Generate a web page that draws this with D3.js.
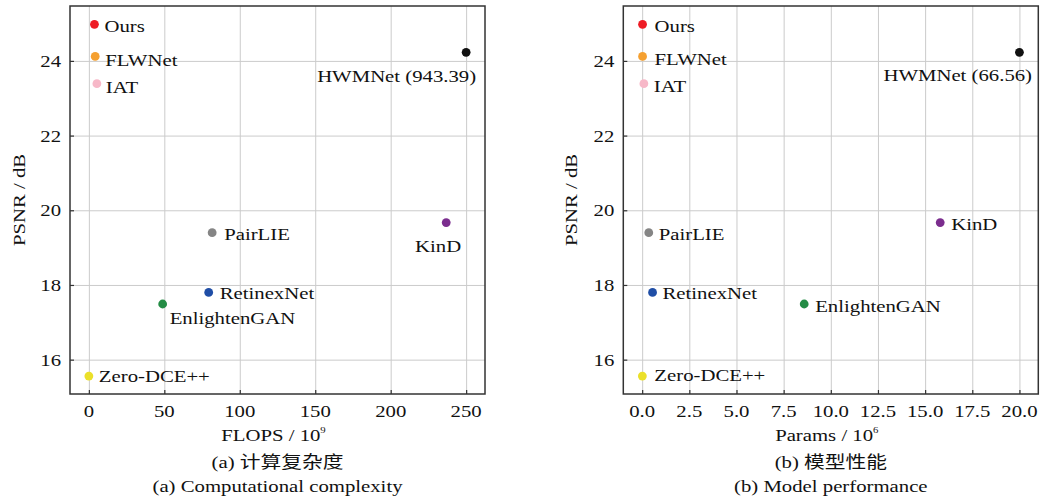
<!DOCTYPE html>
<html><head><meta charset="utf-8">
<script src="https://cdn.jsdelivr.net/npm/d3@7"></script>
<style>body{margin:0;background:#fff}svg{display:block}</style>
</head><body>
<svg id="c" width="1040" height="501"></svg>
<script>
// ---- data ----
const methods = ["Ours","FLWNet","IAT","HWMNet","PairLIE","KinD","RetinexNet","EnlightenGAN","Zero-DCE++"];
const psnr    = [24.98, 24.12, 23.39, 24.23, 19.40, 19.67, 17.80, 17.49, 15.56];
const flops   = [3.7, 4.2, 5.3, 250, 81.7, 236.8, 79.4, 48.9, 0.0];
const params  = [0.02, 0.02, 0.09, 20.0, 0.35, 15.8, 0.55, 8.59, 0.01];
const colors  = ["#ee1c25","#f5a030","#f7b8c8","#111111","#858585","#7b2d8e","#1f4ea6","#248c45","#ebe02a"];
const flopsNames  = ["Ours","FLWNet","IAT","HWMNet (943.39)","PairLIE","KinD","RetinexNet","EnlightenGAN","Zero-DCE++"];
const paramsNames = ["Ours","FLWNet","IAT","HWMNet (66.56)","PairLIE","KinD","RetinexNet","EnlightenGAN","Zero-DCE++"];
const flopsTicks  = [0,50,100,150,200,250];
const paramsTicks = [0,2.5,5,7.5,10,12.5,15,17.5,20];
const psnrTicks   = [16,18,20,22,24];

const FONT = "'Liberation Serif','Times New Roman','Noto Sans CJK SC',serif";
const FS = 17.3, SX = 1.2;
const svg = d3.select("#c");

function txt(g, x, y, s, anchor, rot) {
  return g.append("text")
    .attr("transform", `translate(${x},${y})` + (rot ? ` rotate(${rot})` : "") + ` scale(${SX},1)`)
    .attr("text-anchor", anchor || "start")
    .attr("font-family", FONT).attr("font-size", FS).attr("fill", "#111")
    .text(s);
}

function panel(o) {
  const g = svg.append("g");
  const x = d3.scaleLinear().domain(o.xdom).range([o.left, o.right]);
  const y = d3.scaleLinear().domain([15.08, 25.47]).range([394, 6]);
  const xt = o.xticks, yt = psnrTicks;
  // grid
  g.append("g").call(d3.axisBottom(x).tickValues(xt).tickSize(-(394-6)).tickFormat(""))
    .attr("transform", "translate(0,394)")
    .call(a => { a.select(".domain").remove(); a.selectAll("line").attr("stroke", "#cbcbcb").attr("stroke-width", 1); });
  g.append("g").call(d3.axisLeft(y).tickValues(yt).tickSize(-(o.right-o.left)).tickFormat(""))
    .attr("transform", `translate(${o.left},0)`)
    .call(a => { a.select(".domain").remove(); a.selectAll("line").attr("stroke", "#cbcbcb").attr("stroke-width", 1); });
  // inner ticks
  g.append("g").attr("transform", "translate(0,394)")
    .call(d3.axisBottom(x).tickValues(xt).tickSize(-4).tickFormat(""))
    .call(a => { a.select(".domain").remove(); a.selectAll("line").attr("stroke", "#333").attr("stroke-width", 1.2); });
  g.append("g").attr("transform", `translate(${o.left},0)`)
    .call(d3.axisLeft(y).tickValues(yt).tickSize(-4).tickFormat(""))
    .call(a => { a.select(".domain").remove(); a.selectAll("line").attr("stroke", "#333").attr("stroke-width", 1.2); });
  // frame
  g.append("rect").attr("x", o.left).attr("y", 6).attr("width", o.right - o.left).attr("height", 388)
    .attr("fill", "none").attr("stroke", "#333").attr("stroke-width", 1.5);
  // tick labels
  xt.forEach(v => txt(g, x(v), 416.5, o.fmt(v), "middle"));
  yt.forEach(v => txt(g, o.left - 9, y(v) + 6, String(v), "end"));
  // axis titles
  const cx = (o.left + o.right) / 2;
  const xl = txt(g, cx - 4, 441, o.xlabel, "middle");
  xl.append("tspan").attr("dy", -8).attr("font-size", 9).text(o.sup);
  txt(g, o.ylabX, 200, "PSNR / dB", "middle", -90);
  txt(g, cx, 468, o.cap1, "middle");
  txt(g, cx, 492, o.cap2, "middle");
  // points
  methods.forEach((m, i) => {
    const px = x(o.xs[i]), py = y(psnr[i]);
    g.append("circle").attr("cx", px).attr("cy", py).attr("r", 4.4).attr("fill", colors[i]);
    const p = o.place[m];
    txt(g, px + p[0], py + p[1], o.names[i], p[2] || "start");
  });
}

panel({
  left: 70, right: 485, xdom: [-12.5, 262.5], xs: flops, xticks: flopsTicks,
  fmt: d3.format("d"), xlabel: "FLOPS / 10", sup: "9", ylabX: 25,
  cap1: "(a) 计算复杂度", cap2: "(a) Computational complexity", names: flopsNames,
  place: {
    "Ours": [10, 7.5], "FLWNet": [10, 10], "IAT": [9, 9], "HWMNet": [10, 29.4, "end"],
    "PairLIE": [12, 7.7], "KinD": [15, 29, "end"], "RetinexNet": [11, 6.3],
    "EnlightenGAN": [7, 20.3], "Zero-DCE++": [10, 6]
  }
});
panel({
  left: 623.3, right: 1038.3, xdom: [-1, 21], xs: params, xticks: paramsTicks,
  fmt: d3.format(".1f"), xlabel: "Params / 10", sup: "6", ylabX: 577,
  cap1: "(b) 模型性能", cap2: "(b) Model performance", names: paramsNames,
  place: {
    "Ours": [12, 8], "FLWNet": [12, 9], "IAT": [10, 8.7], "HWMNet": [12.6, 28.3, "end"],
    "PairLIE": [10, 7.7], "KinD": [11, 7.7], "RetinexNet": [10, 6.7],
    "EnlightenGAN": [11, 8], "Zero-DCE++": [12, 5.3]
  }
});
</script>
</body></html>
